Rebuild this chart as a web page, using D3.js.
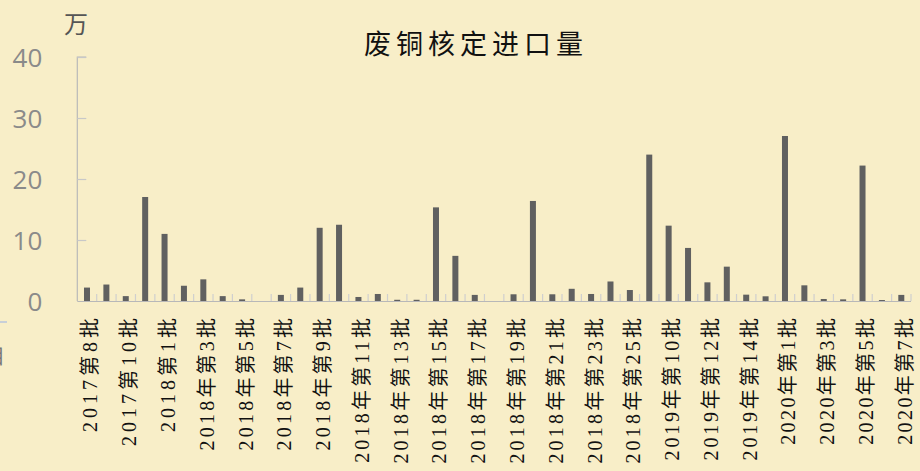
<!DOCTYPE html>
<html>
<head>
<meta charset="utf-8">
<script src="https://cdn.jsdelivr.net/npm/d3@7"></script>
<style>
  html, body { margin: 0; padding: 0; background: #f8eec8; }
  svg { display: block; }
</style>
</head>
<body>
<script>
const categories = [
  "2017第8批", "2017第9批", "2017第10批", "2017第11批",
  "2018第1批", "2018年第2批", "2018年第3批", "2018年第4批", "2018年第5批", "2018年第6批",
  "2018年第7批", "2018年第8批", "2018年第9批", "2018年第10批", "2018年第11批", "2018年第12批",
  "2018年第13批", "2018年第14批", "2018年第15批", "2018年第16批", "2018年第17批", "2018年第18批",
  "2018年第19批", "2018年第20批", "2018年第21批", "2018年第22批", "2018年第23批", "2018年第24批",
  "2018年第25批", "2019年第9批", "2019年第10批", "2019年第11批", "2019年第12批", "2019年第13批",
  "2019年第14批", "2019年第15批", "2020年第1批", "2020年第2批", "2020年第3批", "2020年第4批",
  "2020年第5批", "2020年第6批", "2020年第7批"
];
const values = [
  2.2, 2.7, 0.8, 17.05, 11.0, 2.5, 3.55, 0.8, 0.27, 0,
  1.0, 2.2, 12.0, 12.5, 0.66, 1.15, 0.2, 0.2, 15.35, 7.4,
  1.0, 0, 1.1, 16.4, 1.1, 2.0, 1.15, 3.2, 1.8, 24.0,
  12.35, 8.7, 3.06, 5.63, 1.04, 0.77, 27.05, 2.57, 0.33, 0.27,
  22.2, 0.16, 1.0
];
const yTicks = [0, 10, 20, 30, 40];
const title = "废铜核定进口量";
const unitLabel = "万";

const W = 920, H = 471;
const svg = d3.select("body").append("svg").attr("width", W).attr("height", H);
svg.append("rect").attr("width", W).attr("height", H).attr("fill", "#f8eec8");

const x = d3.scaleBand().domain(categories).range([77.3, 911]).paddingInner(0).paddingOuter(0);
const y = d3.scaleLinear().domain([0, 40]).range([301, 57]);

// title
svg.append("text")
  .attr("x", 476).attr("y", 54)
  .attr("text-anchor", "middle")
  .attr("font-family", "'Noto Sans CJK SC', sans-serif")
  .attr("font-size", 27)
  .style("letter-spacing", "5px")
  .attr("fill", "#111")
  .text(title);

// unit
svg.append("text")
  .attr("x", 64).attr("y", 33)
  .attr("font-family", "'Noto Sans CJK SC', sans-serif")
  .attr("font-size", 24)
  .attr("fill", "#555")
  .text(unitLabel);

// y axis
const yAxis = d3.axisRight(y).tickValues(yTicks).tickSize(9).tickPadding(0).tickFormat(d3.format("d"));
const gy = svg.append("g").attr("transform", "translate(77.3,0)").call(yAxis);
gy.select(".domain").attr("stroke", "#b8b8b8").attr("stroke-width", 1.2).attr("d", `M9,${y(40)}H0V${y(0)}`);
gy.selectAll(".tick line").attr("stroke", "#c8c8c8").attr("stroke-width", 1.2);
gy.selectAll(".tick").filter(d => d === 0).select("line").remove();
gy.selectAll(".tick text")
  .attr("x", -35).attr("text-anchor", "end").attr("dy", "0.36em")
  .attr("font-family", "'Open Sans', 'Noto Sans', sans-serif")
  .attr("font-size", 26)
  .attr("fill", "#8a8a8a");

// bars
svg.append("g").selectAll("rect").data(categories).join("rect")
  .attr("x", (d) => x(d) + x.bandwidth() / 2 - 3)
  .attr("width", 6)
  .attr("y", (d, i) => y(values[i]))
  .attr("height", (d, i) => y(0) - y(values[i]))
  .attr("fill", "#606060");

// x axis
const gx = svg.append("g").attr("transform", `translate(0,${y(0)})`);
gx.append("line").attr("x1", 77.3).attr("x2", 911).attr("y1", 0.5).attr("y2", 0.5)
  .attr("stroke", "#b8b8b8").attr("stroke-width", 1.2);
const boundaries = categories.map(c => x(c)).concat([x.range()[1]]).slice(1);
gx.selectAll("line.tk").data(boundaries).join("line").attr("class", "tk")
  .attr("x1", d => d).attr("x2", d => d).attr("y1", 0).attr("y2", -7)
  .attr("stroke", "#cfcfcf").attr("stroke-width", 1.2);

// x labels (every other category)
const gap = d => d.startsWith("2018年") ? 3.2 : d.startsWith("2019年") ? 2.8 : d.startsWith("2020年") ? 2.4 : 4;
svg.append("g").selectAll("text").data(categories.filter((c, i) => i % 2 === 0)).join("text")
  .attr("transform", d => `translate(${x(d) + x.bandwidth() / 2 + 10.5},${318 - gap(d)}) rotate(-90)`)
  .attr("text-anchor", "end")
  .attr("font-family", "'Liberation Serif', 'Noto Sans CJK SC', serif")
  .attr("font-size", 20)
  .style("letter-spacing", d => gap(d) + "px")
  .attr("fill", "#111")
  .text(d => d);

// cropped remnants at left edge
svg.append("line").attr("x1", 0).attr("x2", 7).attr("y1", 322).attr("y2", 322)
  .attr("stroke", "#c8cfd8").attr("stroke-width", 2);
svg.append("text").attr("x", -15).attr("y", 364)
  .attr("font-family", "'Noto Sans CJK SC', sans-serif").attr("font-size", 20)
  .attr("fill", "#777").text("目");
</script>
</body>
</html>
